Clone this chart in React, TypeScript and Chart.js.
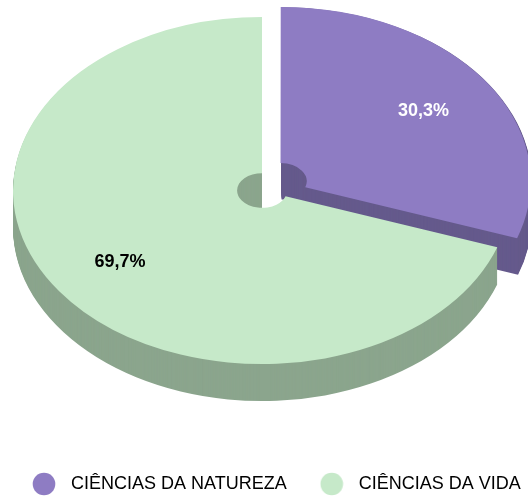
import React, { useEffect, useRef } from "react";
import { Chart, registerables } from "chart.js";

Chart.register(...registerables);

const categories = ["CIÊNCIAS DA NATUREZA", "CIÊNCIAS DA VIDA"];
const seriesValues = [30.3, 69.7];
const sliceOffsets = [91, 0];
const topColors = ["#8e7cc3", "#c6e9c9"];
const sideColors = ["#655a8c", "#8ba58d"];
const labelColors = ["#ffffff", "#000000"];

const FONT = "'Liberation Sans', Arial, sans-serif";
const TILT = 0.697;
const DEPTH = 37;
const CENTER_X = 262;
const CENTER_Y = 190.5;
const RADIUS = 249;

function makeDot(color: string) {
  const c = document.createElement("canvas");
  c.width = 24;
  c.height = 24;
  const g = c.getContext("2d")!;
  g.fillStyle = color;
  g.beginPath();
  g.arc(12, 12, 11.3, 0, Math.PI * 2);
  g.fill();
  return c;
}

function sliceGeometry(arc: any, offset: number) {
  const half = (arc.startAngle + arc.endAngle) / 2;
  const circ = arc.endAngle - arc.startAngle;
  const fix = 1 - Math.sin(Math.min(Math.PI, circ));
  const o = (offset / 4) * (1 + fix);
  return { half, ox: Math.cos(half) * o, oy: Math.sin(half) * o, grow: (offset / 4) * fix };
}

const applyTilt = (ctx: CanvasRenderingContext2D, arc: any, shift = 0) => {
  ctx.translate(CENTER_X, CENTER_Y + shift);
  ctx.scale(1, TILT);
  ctx.translate(-arc.x, -arc.y);
};

const pie3d = {
  id: "pie3d",
  beforeDatasetsDraw(chart: any) {
    const ctx: CanvasRenderingContext2D = chart.ctx;
    const arcs = chart.getDatasetMeta(0).data;
    arcs.forEach((arc: any, i: number) => {
      const { ox, oy, grow } = sliceGeometry(arc, sliceOffsets[i]);
      ctx.save();
      ctx.fillStyle = sideColors[i];
      for (let k = DEPTH; k >= 1; k--) {
        ctx.save();
        applyTilt(ctx, arc, k);
        ctx.beginPath();
        ctx.arc(arc.x + ox, arc.y + oy, arc.outerRadius + grow, arc.startAngle, arc.endAngle);
        ctx.arc(arc.x + ox, arc.y + oy, arc.innerRadius + grow, arc.endAngle, arc.startAngle, true);
        ctx.closePath();
        ctx.fill();
        ctx.restore();
      }
      ctx.restore();
    });
  },
  beforeDatasetDraw(chart: any) {
    const arc = chart.getDatasetMeta(0).data[0];
    chart.ctx.save();
    applyTilt(chart.ctx, arc);
  },
  afterDatasetDraw(chart: any) {
    chart.ctx.restore();
  },
  afterDatasetsDraw(chart: any) {
    const ctx: CanvasRenderingContext2D = chart.ctx;
    const arcs = chart.getDatasetMeta(0).data;
    ctx.save();
    ctx.font = `bold 18px ${FONT}`;
    ctx.textAlign = "center";
    ctx.textBaseline = "middle";
    arcs.forEach((arc: any, i: number) => {
      const { half, ox, oy } = sliceGeometry(arc, sliceOffsets[i]);
      const r = arc.outerRadius * 0.7;
      const x = CENTER_X + ox + Math.cos(half) * r;
      const y = CENTER_Y + (oy + Math.sin(half) * r) * TILT + 1;
      ctx.fillStyle = labelColors[i];
      ctx.fillText(seriesValues[i].toFixed(1).replace(".", ",") + "%", x, y);
    });
    ctx.restore();
  },
};

export default function App() {
  const ref = useRef<HTMLCanvasElement>(null);
  useEffect(() => {
    document.body.style.margin = "0";
    const dots = topColors.map(makeDot);
    const chart = new Chart(ref.current!, {
      type: "doughnut",
      data: {
        labels: categories,
        datasets: [
          {
            data: seriesValues,
            backgroundColor: topColors,
            borderWidth: 0,
            offset: sliceOffsets,
            clip: false,
          } as any,
        ],
      },
      options: {
        responsive: false,
        animation: false,
        cutout: "10%",
        radius: RADIUS,
        layout: { padding: { left: -1, bottom: -5, right: -60 } },
        plugins: {
          tooltip: { enabled: false },
          legend: {
            position: "bottom",
            align: "start",
            labels: {
              usePointStyle: true,
              pointStyleWidth: 36,
              padding: 27,
              color: "#000000",
              font: { family: FONT, size: 18 },
              generateLabels(c: any) {
                const items = (Chart as any).overrides.doughnut.plugins.legend.labels.generateLabels(c);
                return items.map((it: any, i: number) => ({ ...it, pointStyle: dots[i] }));
              },
            },
          },
        },
      } as any,
      plugins: [pie3d as any],
    });
    return () => chart.destroy();
  }, []);
  return <canvas ref={ref} width={528} height={498} style={{ display: "block" }} />;
}
